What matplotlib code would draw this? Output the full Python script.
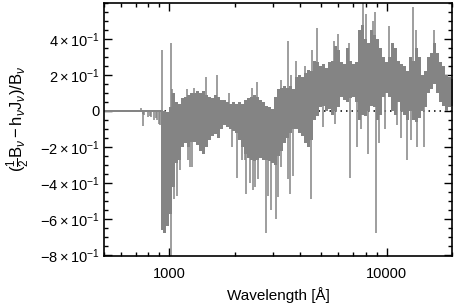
import matplotlib
matplotlib.use('Agg')
import matplotlib.pyplot as plt
from matplotlib.ticker import FixedLocator, FixedFormatter, LogLocator, NullFormatter, MultipleLocator

plt.rcParams['font.family'] = ['Liberation Sans', 'DejaVu Sans']
plt.rcParams['mathtext.fontset'] = 'custom'
plt.rcParams['mathtext.rm'] = 'Liberation Sans'
plt.rcParams['mathtext.it'] = 'Liberation Sans:italic'
plt.rcParams['mathtext.bf'] = 'Liberation Sans:bold'

# ---- data (wavelength in Angstrom) ----
wave = [502, 700, 908,
        919, 948, 979, 1011, 1043, 1077, 1112, 1148, 1185, 1223, 1263, 1304, 1346, 1390, 1435, 1481, 1529,
        1578, 1630, 1682, 1737, 1793, 1851, 1911, 1973, 2036, 2102, 2170, 2240, 2313, 2388, 2465, 2545,
        2627, 2712, 2800, 2890, 2984, 3080, 3180, 3283, 3389, 3499, 3612, 3729, 3850, 3974, 4103, 4235,
        4372, 4514, 4660, 4811, 4966, 5127, 5293, 5464, 5641, 5823, 6012, 6206, 6407, 6614, 6828, 7049,
        7277, 7513, 7756, 8007, 8266, 8533, 8810, 9095, 9389, 9693, 10006, 10330, 10664, 11009, 11365,
        11733, 12112, 12504, 12909, 13326, 13757, 14203, 14662, 15137, 15626, 16132, 16654, 17193, 17749,
        18323, 18916, 19528, 20160]
upper = [0.004, 0.004, 0.004,
         0.005, 0.0, -0.005, 0.02, 0.10, 0.05, 0.04, 0.07, 0.08, 0.09, 0.10, 0.10, 0.11, 0.10, 0.11, 0.09,
         0.08, 0.07, 0.09, 0.08, 0.06, 0.06, 0.05, 0.04, 0.05, 0.04, 0.05, 0.04, 0.06, 0.07, 0.08, 0.09,
         0.08, 0.06, 0.05, 0.03, 0.02, 0.01, 0.08, 0.12, 0.13, 0.14, 0.13, 0.14, 0.12, 0.19, 0.20, 0.19,
         0.21, 0.23, 0.22, 0.28, 0.27, 0.25, 0.26, 0.24, 0.27, 0.28, 0.36, 0.34, 0.27, 0.26, 0.35, 0.28,
         0.26, 0.27, 0.45, 0.48, 0.40, 0.38, 0.45, 0.42, 0.40, 0.35, 0.30, 0.27, 0.30, 0.38, 0.35, 0.28,
         0.26, 0.25, 0.22, 0.30, 0.28, 0.35, 0.30, 0.20, 0.22, 0.30, 0.32, 0.38, 0.32, 0.27, 0.25, 0.20,
         0.19, 0.18]
lower = [-0.004, -0.004, -0.004,
         -0.66, -0.68, -0.64, -0.57, -0.42, -0.29, -0.27, -0.20, -0.18, -0.20, -0.17, -0.17, -0.19, -0.22,
         -0.24, -0.20, -0.16, -0.14, -0.13, -0.15, -0.10, -0.08, -0.09, -0.10, -0.11, -0.12, -0.16, -0.20,
         -0.24, -0.26, -0.27, -0.28, -0.27, -0.26, -0.27, -0.27, -0.28, -0.29, -0.30, -0.25, -0.22, -0.18,
         -0.15, -0.12, -0.10, -0.10, -0.12, -0.14, -0.18, -0.20, -0.16, -0.05, -0.03, 0.02, 0.03, 0.00,
         0.01, -0.02, 0.00, 0.02, 0.08, 0.06, 0.05, 0.07, 0.08, 0.05, -0.05, -0.02, -0.03, 0.00, 0.03, 0.02,
         -0.05, -0.02, 0.08, 0.10, 0.08, 0.00, -0.02, 0.05, 0.00, -0.02, -0.05, 0.00, -0.05, -0.06, -0.04,
         0.00, 0.02, 0.10, 0.12, 0.15, 0.10, 0.05, 0.03, 0.00, 0.02, 0.03]

spike_wave = [743, 928, 1014, 1032, 1211, 1300, 1481, 1655, 1890, 2388, 2520, 3250, 3530, 3640, 3840, 4190,
              4530, 4790, 5730, 5950, 6690, 7756, 8040, 8620, 8870, 10300, 13260, 13600, 16500,
              752, 759, 766, 800, 813, 826, 853, 867, 881, 899, 908,
              1050, 1080, 1120, 1215, 1250, 1276, 1950, 2050, 2150, 2220, 2263, 2340, 2420, 2470,
              2560, 2770, 2840, 2940, 3080, 3160, 3260, 3510, 3610, 3710, 4500, 5090, 5770, 6790, 7320,
              7600, 8190, 8950, 9240, 9800, 11200, 11700, 12430, 12900, 13850, 14800]
spike_top = [0.015, 0.34, 0.38, 0.12, 0.12, 0.13, 0.19, 0.20, 0.10, 0.13, 0.16, 0.17, 0.39, 0.20, 0.28, 0.25,
             0.34, 0.46, 0.39, 0.43, 0.38, 0.60, 0.54, 0.50, 0.55, 0.47, 0.58, 0.45, 0.45,
             0.0, 0.0, 0.0, 0.0, 0.0, 0.0, 0.0, 0.0, 0.0, 0.0, 0.0,
             -0.30, -0.25, -0.20, -0.10, -0.10, -0.10, 0.0, 0.0, 0.0, 0.0, 0.0, 0.0, 0.0, 0.0,
             0.0, 0.0, 0.0, 0.0, 0.0, 0.0, 0.0, 0.0, 0.0, 0.0, 0.0, 0.10, 0.10, 0.10, 0.10,
             0.10, 0.10, 0.10, 0.10, 0.10, 0.10, 0.10, 0.10, 0.10, 0.10, 0.10]
spike_bottom = [0.0, 0.0, -0.82, 0.0, 0.0, 0.0, 0.0, 0.0, 0.0, 0.0, 0.0, 0.0, 0.0, 0.0, 0.0, 0.0,
                0.0, 0.05, 0.05, 0.05, 0.10, 0.10, 0.10, 0.10, 0.10, 0.10, 0.10, 0.10, 0.15,
                -0.015, -0.083, -0.02, -0.035, -0.03, -0.035, -0.05, -0.04, -0.05, -0.07, -0.08,
                -0.49, -0.47, -0.33, -0.27, -0.31, -0.31, -0.20, -0.37, -0.27, -0.27, -0.46,
                -0.40, -0.44, -0.42, -0.38, -0.68, -0.47, -0.55, -0.60, -0.48, -0.31, -0.38, -0.46,
                -0.36, -0.49, -0.09, -0.07, -0.37, -0.20, -0.10, -0.24, -0.68, -0.18, -0.10, -0.08,
                -0.15, -0.27, -0.16, -0.20, -0.20]

xtick_values = [1000, 10000]
xtick_labels = ['1000', '10000']
ytick_values = [-0.8, -0.6, -0.4, -0.2, 0.0, 0.2, 0.4]
ytick_labels = [r'$-8\times10^{-1}$', r'$-6\times10^{-1}$', r'$-4\times10^{-1}$', r'$-2\times10^{-1}$',
                '0', r'$2\times10^{-1}$', r'$4\times10^{-1}$']

gray = '#848484'

fig = plt.figure(figsize=(4.58, 3.05), dpi=100)
ax = fig.add_axes([0.2271, 0.1607, 0.7598, 0.8295])

ax.axhline(0, color='black', lw=1.1, ls=(0, (1, 2.6)), zorder=1)
ax.fill_between(wave, lower, upper, step='mid', color=gray, lw=0, zorder=2)
ax.vlines(spike_wave, spike_bottom, spike_top, color=gray, lw=1.1, zorder=2)

ax.set_xscale('log')
ax.set_xlim(500, 20000)
ax.set_ylim(-0.806, 0.6)

ax.xaxis.set_major_locator(FixedLocator(xtick_values))
ax.xaxis.set_major_formatter(FixedFormatter(xtick_labels))
ax.xaxis.set_minor_locator(LogLocator(base=10, subs=(2, 3, 4, 5, 6, 7, 8, 9), numticks=20))
ax.xaxis.set_minor_formatter(NullFormatter())
ax.yaxis.set_major_locator(FixedLocator(ytick_values))
ax.yaxis.set_major_formatter(FixedFormatter(ytick_labels))
ax.yaxis.set_minor_locator(MultipleLocator(0.05))

ax.tick_params(which='both', direction='in', top=True, right=True, width=1.0, labelsize=10.5)
ax.tick_params(which='major', length=5.8)
ax.tick_params(which='minor', length=2.9)
ax.tick_params(axis='x', which='major', pad=8.0)
ax.tick_params(axis='y', which='major', pad=3)
for s in ax.spines.values():
    s.set_linewidth(1.2)

ax.set_xlabel('Wavelength [Å]', fontsize=11)
ax.xaxis.set_label_coords(0.5, -0.1225)
ax.xaxis.label.set_va('top')
fig.text(0.040, 0.61, r'$(\frac{1}{2}\mathrm{B}_\nu-\mathrm{h}_\nu\mathrm{J}_\nu)/\mathrm{B}_\nu$',
         fontsize=12, rotation=90, ha='center', va='center')

fig.savefig('out.png', dpi=100)
